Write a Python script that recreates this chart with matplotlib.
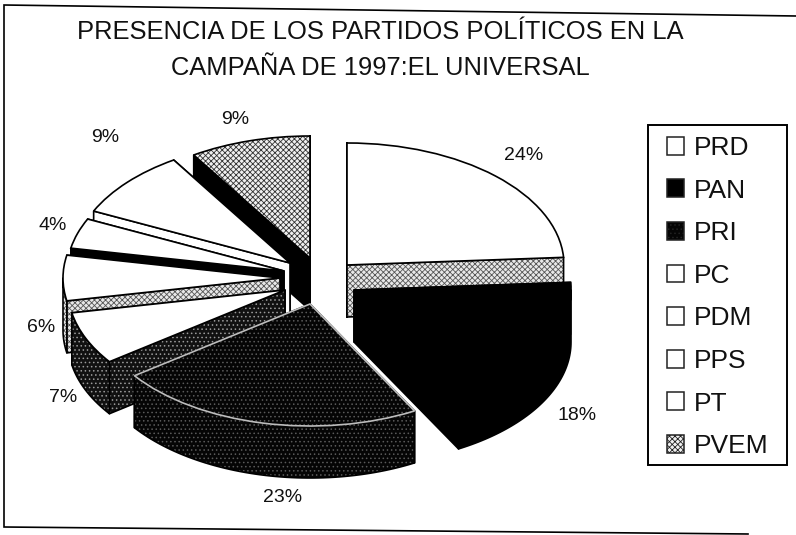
import numpy as np
import matplotlib
matplotlib.use("Agg")
import matplotlib.pyplot as plt
from matplotlib.patches import Wedge, Polygon, Patch, Rectangle
from matplotlib.transforms import Affine2D

plt.rcParams['font.family'] = ['Liberation Sans', 'DejaVu Sans']
plt.rcParams['hatch.linewidth'] = 0.6

TITLE = "PRESENCIA DE LOS PARTIDOS POLÍTICOS EN LA\nCAMPAÑA DE 1997:EL UNIVERSAL"
parties = ["PRD", "PAN", "PRI", "PC", "PDM", "PPS", "PT", "PVEM"]
shares = [24, 18, 23, 7, 6, 4, 9, 9]

# layout and style (separate from data)
CENTER = (305, 278)
RX, RY, DEPTH = 217, 122, 52
slice_shift = [(42, -13), (49, 12), (5, 26), (-20, 12), (-25, 0), (-21, -7), (-15, -15), (5, -20)]
label_pos = [(524, 156), (577, 416), (283, 497), (63, 397), (41, 328), (53, 226), (105, 137), (235, 119)]
# (face, hatch, hatch colour) for the top and the wall of each slice
top_style = [("white", None, None), ("black", None, None), ("#050505", "....", "#5a5a5a"),
             ("white", None, None), ("white", None, None), ("white", None, None),
             ("white", None, None), ("#f0f0f0", "xxxxxx", "#333333")]
wall_style = [("#e8e8e8", "xxxxxx", "#555555"), ("black", None, None), ("#050505", "....", "#5a5a5a"),
              ("#111111", "....", "#9a9a9a"), ("#e8e8e8", "xxxxxx", "#555555"), ("black", None, None),
              ("white", None, None), ("black", None, None)]
top_edge = ["black", "black", "#bdbdbd", "black", "black", "black", "black", "black"]
draw_order = [7, 6, 5, 4, 3, 0, 1, 2]

fig = plt.figure(figsize=(7.96, 5.35), dpi=100, facecolor="white")
ax = fig.add_axes([0, 0, 1, 1])
ax.set_xlim(0, 796)
ax.set_ylim(535, 0)
ax.axis("off")

# scanned page frame: slightly skewed, no right-hand side
ax.plot([796, 4, 4, 748], [16, 5, 527, 534], color="black", lw=1.2, zorder=0, solid_joinstyle="miter")

edges = np.concatenate([[0], np.cumsum(shares)]) / np.sum(shares) * 360.0


def styled(poly_xy, style, z):
    face, hatch, hc = style
    ax.add_patch(Polygon(poly_xy, closed=True, fc=face, ec=hc if hatch else "none",
                         hatch=hatch, lw=0, zorder=z))
    ax.add_patch(Polygon(poly_xy, closed=True, fill=False, ec="black", lw=1.2,
                         joinstyle="round", zorder=z))


def rim(cx, cy, angles):
    a = np.radians(angles)
    return np.column_stack([cx + RX * np.sin(a), cy - RY * np.cos(a)])


for z, i in enumerate(draw_order):
    z = 2 + z * 4
    c0, c1 = edges[i], edges[i + 1]
    cx, cy = CENTER[0] + slice_shift[i][0], CENTER[1] + slice_shift[i][1]
    apex = np.array([cx, cy])
    down = np.array([0, DEPTH])
    # the two cut faces, the hidden one first
    mid = (c0 + c1) / 2
    for c in ((c1, c0) if mid > 180 else (c0, c1)):
        p = rim(cx, cy, [c])[0]
        styled([apex, p, p + down, apex + down], wall_style[i], z)
    # the outer wall, only for the front half of the ellipse
    lo, hi = max(c0, 90), min(c1, 270)
    if hi > lo:
        arc = rim(cx, cy, np.linspace(lo, hi, 60))
        styled(np.vstack([arc, arc[::-1] + down]), wall_style[i], z + 1)
    # the top
    face, hatch, hc = top_style[i]
    tr = Affine2D().scale(RX, RY).translate(cx, cy) + ax.transData
    ax.add_patch(Wedge((0, 0), 1, c0 - 90, c1 - 90, fc=face, ec=hc if hatch else "none",
                       hatch=hatch, lw=0, zorder=z + 2, transform=tr))
    ax.add_patch(Wedge((0, 0), 1, c0 - 90, c1 - 90, fill=False, ec=top_edge[i], lw=1.2,
                       zorder=z + 2, transform=tr))

for v, (x, y) in zip(shares, label_pos):
    ax.text(x, y, f"{v}%", ha="center", va="center", fontsize=14, color="#111111", zorder=60)

ax.text(380, 50, TITLE, ha="center", va="center", fontsize=18.4, color="#111111",
        linespacing=1.58, zorder=60)

# legend: frame drawn around the real legend entries
ax.add_patch(Rectangle((648, 125), 139, 340, fc="white", ec="black", lw=1.4, zorder=65))
handles = []
for i, name in enumerate(parties):
    face, hatch, hc = top_style[i]
    handles.append(Patch(facecolor=face, edgecolor="#222222", hatch=hatch, linewidth=1.1, label=name))
leg = ax.legend(handles=handles, loc="upper left", bbox_to_anchor=(667 / 796, 1 - 136 / 535),
                borderaxespad=0, borderpad=0, frameon=False, fontsize=19,
                handlelength=0.66, handleheight=0.66, handletextpad=0.36,
                labelspacing=0.705, labelcolor="#111111")
leg.set_zorder(70)

fig.savefig("out.png", dpi=100)
